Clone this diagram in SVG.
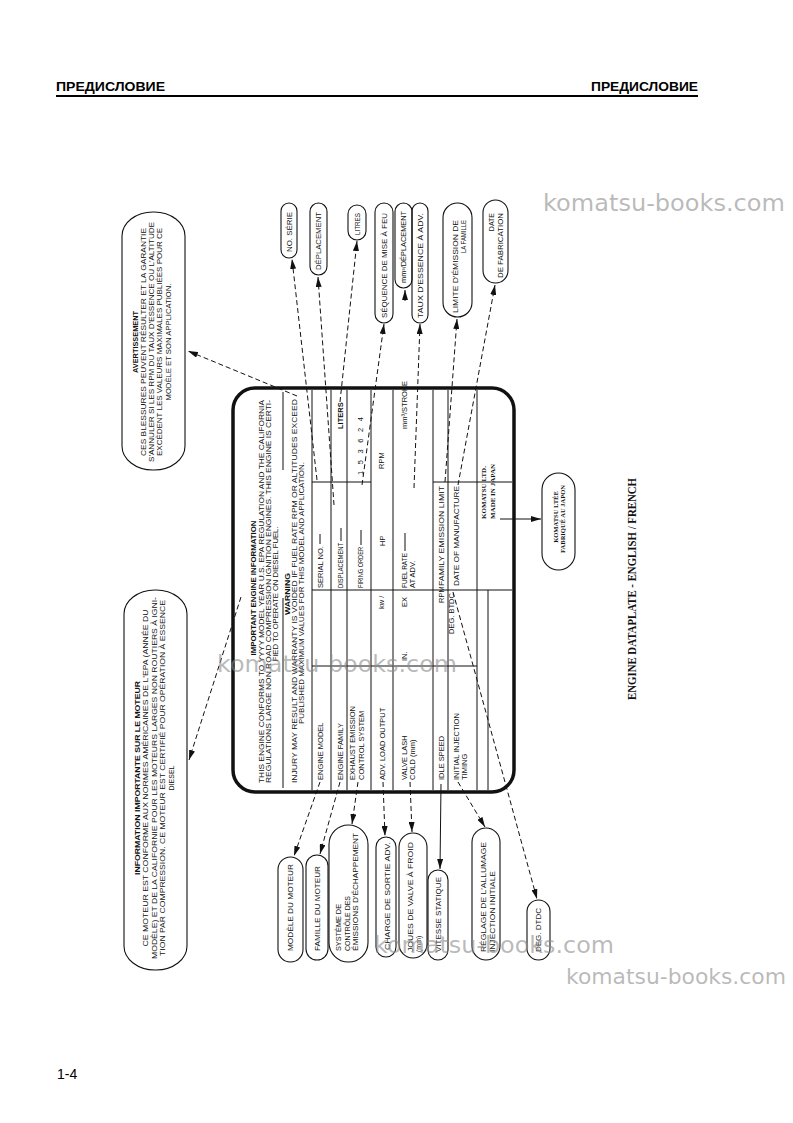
<svg xmlns="http://www.w3.org/2000/svg" width="793" height="1123" viewBox="0 0 793 1123">
<defs>
<style>
.t{font-family:'Liberation Sans',Arial,sans-serif;font-size:7.5px;fill:#111}
.s7{font-size:7px}
.b{font-weight:bold}
.sf{font-family:'Liberation Serif','Times New Roman',serif;font-weight:bold;fill:#111}
.bub{fill:none;stroke:#111;stroke-width:1.1}
.con{fill:none;stroke:#111;stroke-width:1;stroke-dasharray:5 3}
.sol{fill:none;stroke:#111;stroke-width:1}
.g{fill:none;stroke:#111;stroke-width:1}
.hd{font-family:'Liberation Sans',Arial,sans-serif;font-weight:bold;font-size:13px;fill:#000}
.wm{font-family:'DejaVu Sans',sans-serif;font-size:23px;fill:#8c8c8c;fill-opacity:0.6}
</style>
<marker id="ah" viewBox="0 0 10 6" refX="10" refY="3" markerWidth="10" markerHeight="6" markerUnits="userSpaceOnUse" orient="auto"><path d="M0,0 L10,3 L0,6 z" fill="#111"/></marker>
</defs>
<rect width="793" height="1123" fill="#fff"/>

<g id="header">
<text class="hd" x="56" y="91" textLength="109" lengthAdjust="spacingAndGlyphs">ПРЕДИСЛОВИЕ</text>
<text class="hd" x="698" y="91" text-anchor="end" textLength="107" lengthAdjust="spacingAndGlyphs">ПРЕДИСЛОВИЕ</text>
<line x1="56" y1="96" x2="698" y2="96" stroke="#000" stroke-width="2"/>
</g>

<g id="plate">
<rect x="233" y="388" width="281" height="404" rx="22" fill="none" stroke="#111" stroke-width="3.5"/>
<path class="g" d="M283,392V470 M283,598V788 M312,390V790 M331,390V790 M347,390V790 M371,390V790 M393,390V790 M433,390V790 M448,390V790 M477,390V790 M488,590V790 M312,590H512 M312,666H477 M312,482H371 M433,482H512 M320,544V534 M341,541V528 M361,545V530 M405,551V533"/>
<g class="t">
<text class="b" x="255.7" y="588" transform="rotate(-90 255.7 588)" text-anchor="middle" textLength="135" lengthAdjust="spacingAndGlyphs">IMPORTANT ENGINE INFORMATION</text>
<text x="263.7" y="783" transform="rotate(-90 263.7 783)" textLength="383" lengthAdjust="spacingAndGlyphs">THIS ENGINE CONFORMS TO YYYY MODEL YEAR U.S. EPA REGULATION AND THE CALIFORNIA</text>
<text x="270.7" y="783" transform="rotate(-90 270.7 783)" textLength="383" lengthAdjust="spacingAndGlyphs">REGULATIONS LARGE NON ROAD COMPRESSION IGNITION ENGINES. THIS ENGINE IS CERTI-</text>
<text x="277.7" y="594" transform="rotate(-90 277.7 594)" text-anchor="middle" textLength="135" lengthAdjust="spacingAndGlyphs">FIED TO OPERATE ON DIESEL FUEL.</text>
<text class="b" x="289.7" y="594" transform="rotate(-90 289.7 594)" text-anchor="middle" textLength="42" lengthAdjust="spacingAndGlyphs">WARNING</text>
<text x="296.7" y="783" transform="rotate(-90 296.7 783)" textLength="384" lengthAdjust="spacingAndGlyphs">INJURY MAY RESULT AND WARRANTY IS VOIDED IF FUEL RATE RPM OR ALTITUDES EXCEED</text>
<text x="303.7" y="593" transform="rotate(-90 303.7 593)" text-anchor="middle" textLength="262" lengthAdjust="spacingAndGlyphs">PUBLISHED MAXIMUM VALUES FOR THIS MODEL AND APPLICATION.</text>

<text x="322.7" y="780" transform="rotate(-90 322.7 780)">ENGINE MODEL</text>
<text x="322.7" y="588" transform="rotate(-90 322.7 588)">SERIAL NO.</text>
<text x="342.7" y="780" transform="rotate(-90 342.7 780)">ENGINE FAMILY</text>
<text x="342.7" y="588" transform="rotate(-90 342.7 588)" textLength="45" lengthAdjust="spacingAndGlyphs">DISPLACEMENT</text>
<text class="b" x="342.7" y="429" transform="rotate(-90 342.7 429)">LITERS</text>
<text x="354.7" y="780" transform="rotate(-90 354.7 780)">EXHAUST EMISSION</text>
<text x="363.7" y="780" transform="rotate(-90 363.7 780)">CONTROL SYSTEM</text>
<text x="362.7" y="588" transform="rotate(-90 362.7 588)" textLength="41" lengthAdjust="spacingAndGlyphs">FIRING ORDER</text>
<text x="362.7" y="475" transform="rotate(-90 362.7 475)" textLength="58" lengthAdjust="spacing">1 5 3 6 2 4</text>
<text x="384.7" y="780" transform="rotate(-90 384.7 780)">ADV. LOAD OUTPUT</text>
<text x="383.7" y="609" transform="rotate(-90 383.7 609)">kw /</text>
<text x="384.7" y="546" transform="rotate(-90 384.7 546)">HP</text>
<text x="383.7" y="469" transform="rotate(-90 383.7 469)">RPM</text>
<text x="406.7" y="780" transform="rotate(-90 406.7 780)">VALVE LASH</text>
<text x="414.7" y="780" transform="rotate(-90 414.7 780)">COLD (mm)</text>
<text x="406.7" y="661" transform="rotate(-90 406.7 661)">IN.</text>
<text x="406.7" y="607" transform="rotate(-90 406.7 607)">EX</text>
<text x="406.7" y="588" transform="rotate(-90 406.7 588)" textLength="35" lengthAdjust="spacingAndGlyphs">FUEL RATE</text>
<text x="414.7" y="588" transform="rotate(-90 414.7 588)">AT ADV.</text>
<text x="406.7" y="429" transform="rotate(-90 406.7 429)">mm³/STROKE</text>
<text x="443.7" y="780" transform="rotate(-90 443.7 780)">IDLE SPEED</text>
<text x="443.7" y="603" transform="rotate(-90 443.7 603)">RPM</text>
<text x="443.7" y="586" transform="rotate(-90 443.7 586)" textLength="100" lengthAdjust="spacingAndGlyphs">FAMILY EMISSION LIMIT</text>
<text x="454.2" y="634" transform="rotate(-90 454.2 634)">DEG. BTDC</text>
<text x="458.7" y="780" transform="rotate(-90 458.7 780)">INITIAL INJECTION</text>
<text x="466.7" y="780" transform="rotate(-90 466.7 780)">TIMING</text>
<text x="458.7" y="586" transform="rotate(-90 458.7 586)" textLength="100" lengthAdjust="spacingAndGlyphs">DATE OF MANUFACTURE</text>
</g>
<g class="sf" font-size="7">
<text x="485.7" y="519" transform="rotate(-90 485.7 519)">KOMATSU LTD.</text>
<text x="494.7" y="519" transform="rotate(-90 494.7 519)">MADE IN JAPAN</text>
</g>
</g>

<g id="avertissement">
<rect class="bub" x="122" y="212" width="63" height="258" rx="31" ry="24"/>
<g class="t s7" text-anchor="middle">
<text class="b" x="137.5" y="342" transform="rotate(-90 137.5 342)" textLength="62" lengthAdjust="spacingAndGlyphs">AVERTISSEMENT</text>
<text x="145.5" y="342" transform="rotate(-90 145.5 342)" textLength="228" lengthAdjust="spacingAndGlyphs">CES BLESSURES PEUVENT RÉSULTER ET LA GARANTIE</text>
<text x="154" y="342" transform="rotate(-90 154 342)" textLength="240" lengthAdjust="spacingAndGlyphs">S'ANNULER SI LES RPM DU TAUX D'ESSENCE OU L'ALTITUDE</text>
<text x="161.5" y="342" transform="rotate(-90 161.5 342)" textLength="228" lengthAdjust="spacingAndGlyphs">EXCÈDENT LES VALEURS MAXIMALES PUBLIÉES POUR CE</text>
<text x="170.5" y="342" transform="rotate(-90 170.5 342)" textLength="117" lengthAdjust="spacingAndGlyphs">MODÈLE ET SON APPLICATION.</text>
</g>
</g>

<g id="information">
<rect class="bub" x="124" y="590" width="63" height="380" rx="31" ry="24"/>
<g class="t s7" text-anchor="middle">
<text class="b" x="139.5" y="778" transform="rotate(-90 139.5 778)" textLength="194" lengthAdjust="spacingAndGlyphs">INFORMATION IMPORTANTE SUR LE MOTEUR</text>
<text x="148" y="778" transform="rotate(-90 148 778)" textLength="337" lengthAdjust="spacingAndGlyphs">CE MOTEUR EST CONFORME AUX NORMES AMÉRICAINES DE L'EPA (ANNÉE DU</text>
<text x="156.5" y="778" transform="rotate(-90 156.5 778)" textLength="362" lengthAdjust="spacingAndGlyphs">MODÈLE) ET DE LA CALIFORNIE POUR LES MOTEURS LARGES NON ROUTIERS À IGNI-</text>
<text x="165" y="778" transform="rotate(-90 165 778)" textLength="356" lengthAdjust="spacingAndGlyphs">TION PAR COMPRESSION. CE MOTEUR EST CERTIFIÉ POUR OPÉRATION À ESSENCE</text>
<text x="173.5" y="778" transform="rotate(-90 173.5 778)">DIESEL</text>
</g>
</g>

<g id="top-bubbles" class="t s7">
<g id="b-noserie"><rect class="bub" x="281" y="203" width="16" height="55" rx="8"/><text x="291.5" y="212" transform="rotate(-90 291.5 212)" text-anchor="end" textLength="40" lengthAdjust="spacingAndGlyphs">NO. SÉRIE</text></g>
<g id="b-deplacement"><rect class="bub" x="310" y="203" width="17" height="72" rx="8.5"/><text x="321" y="212" transform="rotate(-90 321 212)" text-anchor="end" textLength="58" lengthAdjust="spacingAndGlyphs">DÉPLACEMENT</text></g>
<g id="b-litres"><rect class="bub" x="348" y="205" width="18" height="35" rx="9"/><text x="359.5" y="213" transform="rotate(-90 359.5 213)" text-anchor="end" textLength="22" lengthAdjust="spacingAndGlyphs">LITRES</text></g>
<g id="b-sequence"><rect class="bub" x="375" y="203" width="18" height="120" rx="9"/><text x="386.5" y="213" transform="rotate(-90 386.5 213)" text-anchor="end" textLength="105" lengthAdjust="spacingAndGlyphs">SÉQUENCE DE MISE À FEU</text></g>
<g id="b-mm3"><rect class="bub" x="395" y="203" width="17" height="85" rx="8.5"/><text x="406" y="211" transform="rotate(-90 406 211)" text-anchor="end" textLength="72" lengthAdjust="spacingAndGlyphs">mm³/DÉPLACEMENT</text></g>
<g id="b-taux"><rect class="bub" x="412" y="203" width="16" height="120" rx="8"/><text x="422.5" y="213" transform="rotate(-90 422.5 213)" text-anchor="end" textLength="105" lengthAdjust="spacingAndGlyphs">TAUX D'ESSENCE À ADV.</text></g>
<g id="b-limite"><rect class="bub" x="443" y="203" width="29" height="114" rx="14.5"/><text x="457.5" y="220" transform="rotate(-90 457.5 220)" text-anchor="end" textLength="93" lengthAdjust="spacingAndGlyphs">LIMITE D'ÉMISSION DE</text><text x="465.5" y="220" transform="rotate(-90 465.5 220)" text-anchor="end" textLength="33" lengthAdjust="spacingAndGlyphs">LA FAMILLE</text></g>
<g id="b-date"><rect class="bub" x="483" y="200" width="25" height="83" rx="12.5"/><text x="493.5" y="213" transform="rotate(-90 493.5 213)" text-anchor="end">DATE</text><text x="502.5" y="213" transform="rotate(-90 502.5 213)" text-anchor="end" textLength="65" lengthAdjust="spacingAndGlyphs">DE FABRICATION</text></g>
</g>

<g id="bottom-bubbles" class="t s7">
<g id="b-modele"><rect class="bub" x="278" y="857" width="25" height="105" rx="12.5"/><text x="292.5" y="951" transform="rotate(-90 292.5 951)" textLength="87" lengthAdjust="spacingAndGlyphs">MODÈLE DU MOTEUR</text></g>
<g id="b-famille"><rect class="bub" x="306" y="855" width="22" height="105" rx="11"/><text x="319.5" y="951" transform="rotate(-90 319.5 951)" textLength="85" lengthAdjust="spacingAndGlyphs">FAMILLE DU MOTEUR</text></g>
<g id="b-systeme"><rect class="bub" x="329" y="825" width="39" height="137" rx="19.5"/><text x="340.5" y="951" transform="rotate(-90 340.5 951)" textLength="47" lengthAdjust="spacingAndGlyphs">SYSTÈME DE</text><text x="349.5" y="951" transform="rotate(-90 349.5 951)" textLength="55" lengthAdjust="spacingAndGlyphs">CONTRÔLE DES</text><text x="358" y="951" transform="rotate(-90 358 951)" textLength="118" lengthAdjust="spacingAndGlyphs">ÉMISSIONS D'ÉCHAPPEMENT</text></g>
<g id="b-charge"><rect class="bub" x="376" y="837" width="20" height="120" rx="10"/><text x="389.5" y="950" transform="rotate(-90 389.5 950)" textLength="108" lengthAdjust="spacingAndGlyphs">CHARGE DE SORTIE ADV.</text></g>
<g id="b-joues"><rect class="bub" x="399" y="833" width="28" height="125" rx="14"/><text x="412.5" y="952" transform="rotate(-90 412.5 952)" textLength="110" lengthAdjust="spacingAndGlyphs">JOUES DE VALVE À FROID</text><text x="421" y="952" transform="rotate(-90 421 952)">(mm)</text></g>
<g id="b-vitesse"><rect class="bub" x="428" y="870" width="20" height="90" rx="10"/><text x="440.5" y="952" transform="rotate(-90 440.5 952)" textLength="75" lengthAdjust="spacingAndGlyphs">VITESSE STATIQUE</text></g>
<g id="b-reglage"><rect class="bub" x="472" y="828" width="28" height="132" rx="14"/><text x="485.5" y="952" transform="rotate(-90 485.5 952)" textLength="110" lengthAdjust="spacingAndGlyphs">RÉGLAGE DE L'ALLUMAGE</text><text x="494.5" y="952" transform="rotate(-90 494.5 952)" textLength="81" lengthAdjust="spacingAndGlyphs">INJECTION INITIALE</text></g>
<g id="b-deg"><rect class="bub" x="527" y="900" width="23" height="60" rx="11.5"/><text x="540.5" y="952" transform="rotate(-90 540.5 952)" textLength="44" lengthAdjust="spacingAndGlyphs">DEG. DTDC</text></g>
</g>

<g id="b-komatsu">
<rect class="bub" x="542" y="473" width="33" height="97" rx="16.5"/>
<g class="sf" font-size="6.5" text-anchor="middle">
<text x="557.5" y="517" transform="rotate(-90 557.5 517)">KOMATSU LTÉE</text>
<text x="565" y="519" transform="rotate(-90 565 519)">FABRIQUÉ AU JAPON</text>
</g>
</g>

<g id="connectors">
<path class="con" marker-end="url(#ah)" d="M317,480 L292,259"/>
<path class="con" marker-end="url(#ah)" d="M334,505 L318,277"/>
<path class="con" marker-end="url(#ah)" d="M340,402 L357,241"/>
<path class="con" marker-end="url(#ah)" d="M362,485 L384,324"/>
<path class="sol" marker-end="url(#ah)" d="M405,301 L405,290"/>
<path class="con" marker-end="url(#ah)" d="M414,488 L420,324"/>
<path class="con" marker-end="url(#ah)" d="M445,482 L457,319"/>
<path class="con" marker-end="url(#ah)" d="M458,485 L495,285"/>
<path class="con" marker-end="url(#ah)" d="M297,396 L188,351"/>
<path class="con" marker-end="url(#ah)" d="M241,597 L189,760"/>
<path class="con" marker-end="url(#ah)" d="M320,782 L294,856"/>
<path class="con" marker-end="url(#ah)" d="M340,782 L320,854"/>
<path class="con" marker-end="url(#ah)" d="M358,782 L352,824"/>
<path class="con" marker-end="url(#ah)" d="M383,782 L385,836"/>
<path class="con" marker-end="url(#ah)" d="M410,782 L412,832"/>
<path class="sol" marker-end="url(#ah)" d="M441,784 L440,869"/>
<path class="con" marker-end="url(#ah)" d="M458,782 L485,827"/>
<path class="con" marker-end="url(#ah)" d="M453,592 L537,899"/>
<path class="sol" marker-end="url(#ah)" d="M500,519 L541,519"/>
</g>

<text class="sf" font-size="12" x="636" y="589" transform="rotate(-90 636 589)" text-anchor="middle" textLength="222" lengthAdjust="spacingAndGlyphs">ENGINE DATAPLATE - ENGLISH / FRENCH</text>

<text x="57" y="1079" font-family="'Liberation Sans',Arial,sans-serif" font-size="14" fill="#000">1-4</text>

<g id="watermarks" class="wm">
<text x="543" y="211" textLength="242" lengthAdjust="spacingAndGlyphs">komatsu-books.com</text>
<text x="217" y="672" textLength="240" lengthAdjust="spacingAndGlyphs">komatsu-books.com</text>
<text x="374" y="953" textLength="240" lengthAdjust="spacingAndGlyphs">komatsu-books.com</text>
<text x="566" y="984" font-size="21" textLength="220" lengthAdjust="spacingAndGlyphs">komatsu-books.com</text>
</g>
</svg>
